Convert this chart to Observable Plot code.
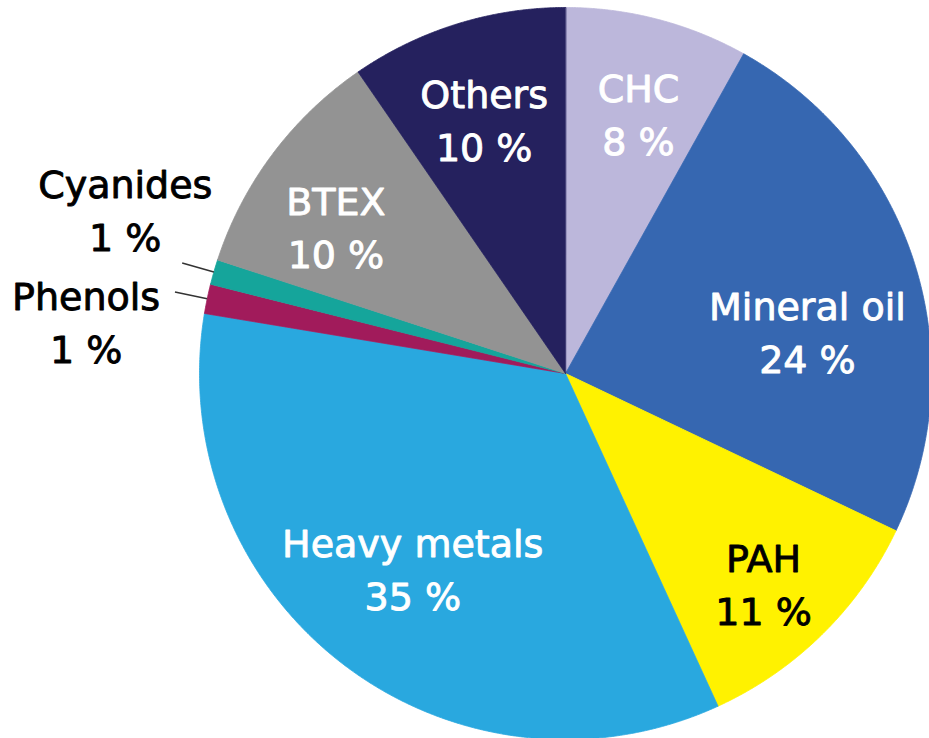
<!DOCTYPE html>
<html><head><meta charset="utf-8">
<script src="https://cdn.jsdelivr.net/npm/d3@7"></script>
<script src="https://cdn.jsdelivr.net/npm/@observablehq/plot@0.6"></script>
<style>body{margin:0;background:#fff}</style>
</head><body><div id="chart"></div>
<script>
// Data
const categories = ["CHC", "Mineral oil", "PAH", "Heavy metals", "Phenols", "Cyanides", "BTEX", "Others"];
const shares = [8.1, 24.0, 11.1, 34.5, 1.3, 1.1, 10.4, 9.6];
const shareLabels = ["8 %", "24 %", "11 %", "35 %", "1 %", "1 %", "10 %", "10 %"];

// Styling / layout
const colors = ["#bcb7db", "#3667b1", "#fff200", "#29a8df", "#a11b5b", "#15a59b", "#939393", "#25215e"];
const darkText = ["PAH", "Phenols", "Cyanides"];
const labelAngles = [15.6, 79.6, 136.4, 218.4, 276.4, 290.6, 303.0, 342.4];
const labelRadii = [0.742, 0.672, 0.785, 0.672, 1.318, 1.285, 0.748, 0.735];
const leaderNames = ["Phenols", "Cyanides"];
const leaderRadii = [1.0, 1.09];

const arcs = d3.pie().sort(null).value((d, i) => shares[i])(categories);

const pts = [];
arcs.forEach((a) => {
  pts.push({name: a.data, x: 0, y: 0});
  const n = Math.max(2, Math.ceil((a.endAngle - a.startAngle) / (Math.PI / 720)));
  for (let k = 0; k <= n; k++) {
    const t = a.startAngle + (a.endAngle - a.startAngle) * k / n;
    pts.push({name: a.data, x: Math.sin(t), y: Math.cos(t)});
  }
});

const labels = categories.map((c, i) => {
  const t = labelAngles[i] * Math.PI / 180;
  return {name: c, text: c + "\n" + shareLabels[i], x: labelRadii[i] * Math.sin(t), y: labelRadii[i] * Math.cos(t)};
});

const leaders = leaderNames.map((nm) => {
  const a = arcs[categories.indexOf(nm)];
  const t = (a.startAngle + a.endAngle) / 2;
  return {x1: leaderRadii[1] * Math.sin(t), y1: leaderRadii[1] * Math.cos(t), x2: leaderRadii[0] * Math.sin(t), y2: leaderRadii[0] * Math.cos(t)};
});

const font = "DejaVu Sans";
const textOpts = {x: "x", y: "y", text: "text", fontSize: 38, lineHeight: 1.395, fontFamily: font, strokeWidth: 0.9};
const chart = Plot.plot({
  width: 929,
  height: 738,
  margin: 0,
  style: {fontFamily: font, background: "#fff"},
  x: {domain: [-1, 1], range: [199, 931], axis: null},
  y: {domain: [-1, 1], range: [739, 7], axis: null},
  color: {domain: categories, range: colors},
  marks: [
    Plot.line(pts, {x: "x", y: "y", z: "name", fill: "name", stroke: "name", strokeWidth: 0.8, curve: "linear-closed"}),
    Plot.link(leaders, {x1: "x1", y1: "y1", x2: "x2", y2: "y2", stroke: "#333", strokeWidth: 1.5}),
    Plot.text(labels.filter(d => !darkText.includes(d.name)), {...textOpts, fill: "white", stroke: "white"}),
    Plot.text(labels.filter(d => darkText.includes(d.name)), {...textOpts, fill: "black", stroke: "black"})
  ]
});
document.getElementById("chart").appendChild(chart);
</script>
</body></html>
